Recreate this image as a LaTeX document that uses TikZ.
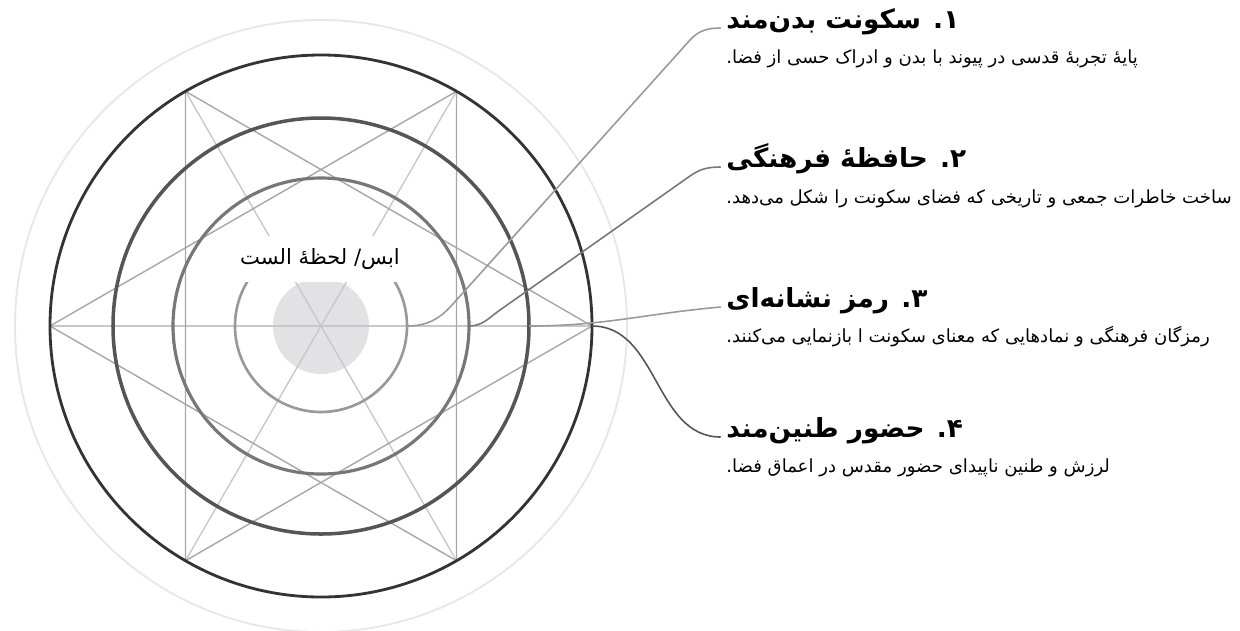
\documentclass[tikz,border=0pt]{standalone}
\usepackage{fontspec}
\usetikzlibrary{calc}
\newfontfamily\farsi[Script=Arabic]{DejaVu Sans}
\TeXXeTstate=1
\definecolor{halo}{HTML}{E8E8E8}
\definecolor{aroA}{HTML}{333333}
\definecolor{aroB}{HTML}{555555}
\definecolor{aroC}{HTML}{777777}
\definecolor{aroD}{HTML}{999999}
\definecolor{nucleo}{HTML}{E2E2E5}
\definecolor{trazo}{HTML}{A6A6AE}
\definecolor{eje}{HTML}{C8C8CC}

\begin{document}
\begin{tikzpicture}[x=0.02cm, y=-0.02cm,
    trazo/.style={draw=trazo, line width=0.8pt},
    eje/.style={draw=eje, line width=0.8pt},
    enlace/.style={line width=0.9pt},
    titulo/.style={anchor=base west, inner sep=0pt,
      font=\farsi\bfseries\fontsize{15}{18}\selectfont},
    desc/.style={anchor=base west, inner sep=0pt,
      font=\farsi\fontsize{10.3}{13}\selectfont}]
  \useasboundingbox (0,0) rectangle (1240,630);

  % Centro y vertices
  \coordinate (o) at (321,326);
  \foreach \a in {0,60,...,300}
    \coordinate (v\a) at ($(o)+(\a:271)$);

  % Halo
  \draw[halo, line width=1.1pt] (o) circle (306);
  \fill[nucleo] (o) circle (48);

  % Ejes
  \draw[eje] (v0) -- (v180);
  \draw[eje] (v60) -- (v240);
  \draw[eje] (v120) -- (v300);

  % Estrella
  \draw[trazo] (v0) -- (v120) -- (v240) -- cycle;
  \draw[trazo] (v60) -- (v180) -- (v300) -- cycle;

  % Anillos
  \draw[aroA, line width=1.6pt] (o) circle (271);
  \draw[aroB, line width=2pt] (o) circle (208);
  \draw[aroC, line width=1.8pt] (o) circle (148);
  \draw[aroD, line width=1.5pt] (o) circle (86);

  \node[fill=white, inner sep=0pt, minimum width=3.2cm, minimum height=0.92cm,
    font=\farsi\fontsize{12}{14}\selectfont] (alast) at (320,259)
    {\beginR ابس/ لحظهٔ الست\endR};

  % Puntos de salida
  \coordinate (p1) at ($(o)+(86,0)$);
  \coordinate (p2) at ($(o)+(148,0)$);
  \coordinate (p3) at ($(o)+(208,0)$);
  \coordinate (p4) at ($(o)+(271,0)$);

  % Textos
  \node[titulo] (t1) at (726,28) {\beginR ۱. سکونت بدن‌مند\endR};
  \node[desc] (d1) at (726,63) {\beginR پایهٔ تجربهٔ قدسی در پیوند با بدن و ادراک حسی از فضا.\endR};
  \node[titulo] (t2) at (726,167) {\beginR ۲. حافظهٔ فرهنگی\endR};
  \node[desc] (d2) at (726,203) {\beginR ساخت خاطرات جمعی و تاریخی که فضای سکونت را شکل می‌دهد.\endR};
  \node[titulo] (t3) at (726,307) {\beginR ۳. رمز نشانه‌ای\endR};
  \node[desc] (d3) at (726,342) {\beginR رمزگان فرهنگی و نمادهایی که معنای سکونت ا بازنمایی می‌کنند.\endR};
  \node[titulo] (t4) at (726,437) {\beginR ۴. حضور طنین‌مند\endR};
  \node[desc] (d4) at (726,472) {\beginR لرزش و طنین ناپیدای حضور مقدس در اعماق فضا.\endR};

  % Enlaces
  \draw[enlace, aroD] (p1) to[out=0, in=228] (452,305) -- (690,40)
    to[out=48, in=180] ([xshift=-3pt]t1.base west);
  \draw[enlace, aroC] (p2) to[out=0, in=215] (500,310) -- (690,176)
    to[out=35, in=180] ([xshift=-3pt]t2.base west);
  \draw[enlace, aroD] (p3) to[out=0, in=185] ([xshift=-3pt]t3.base west);
  \draw[enlace, aroB] (p4) to[out=0, in=180] ([xshift=-3pt]t4.base west);
\end{tikzpicture}
\end{document}
